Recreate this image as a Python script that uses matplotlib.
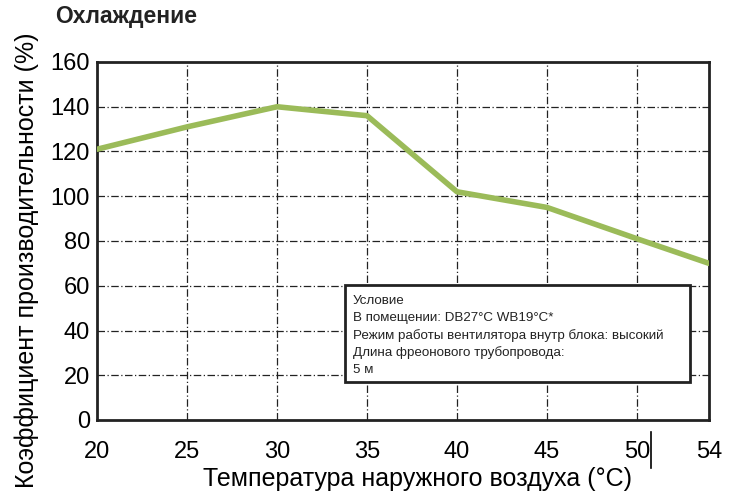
import matplotlib
matplotlib.use("Agg")
import matplotlib.pyplot as plt
from matplotlib.patches import Rectangle
from matplotlib.lines import Line2D

plt.rcParams['font.family'] = ['Liberation Sans', 'DejaVu Sans']

temps = [20, 25, 30, 35, 40, 45, 50, 54]
capacity = [121, 131, 140, 136, 102, 95, 81, 70]
x_ticks = [20, 25, 30, 35, 40, 45, 50, 54]
y_ticks = [0, 20, 40, 60, 80, 100, 120, 140, 160]

title = "Охлаждение"
xlabel = "Температура наружного воздуха (°C)"
ylabel = "Коэффициент производительности (%)"
note_lines = ["Условие",
              "В помещении: DB27°C WB19°C*",
              "Режим работы вентилятора внутр блока: высокий",
              "Длина фреонового трубопровода:",
              "5 м"]

fig = plt.figure(figsize=(7.29, 5.0), dpi=100)
ax = fig.add_axes([97/729, 1-420/500, (709-97)/729, (420-62)/500])

ax.set_xlim(20, 54)
ax.set_ylim(0, 160)
ax.set_xticks(x_ticks)
ax.set_yticks(y_ticks)
ax.tick_params(length=0, labelsize=17)
ax.tick_params(axis='x', pad=15)
ax.tick_params(axis='y', pad=5)
for s in ax.spines.values():
    s.set_linewidth(2)
    s.set_color('#222222')

for xv in [25, 30, 35, 40, 45, 50]:
    ax.axvline(xv, color='#222222', lw=0.9, ls=(0, (6, 2, 1, 2)), zorder=1)
for yv in [20, 40, 60, 80, 100, 120, 140]:
    ax.axhline(yv, color='#222222', lw=0.9, ls=(0, (6, 2, 1, 2)), zorder=1)

ax.plot(temps, capacity, color='#9BBB59', lw=4, solid_capstyle='round',
        solid_joinstyle='round', zorder=3)

# Condition note box
box = Rectangle((33.8, 17.0), 52.95-33.8, 60.5-17.0, facecolor='white',
                edgecolor='#222222', lw=2, zorder=4)
ax.add_patch(box)
ax.text(34.2, 55.8, "\n".join(note_lines), fontsize=9.6, va='top', ha='left',
        linespacing=1.5, color='#222222', zorder=5)

ax.set_xlabel(xlabel, fontsize=18)
ax.set_ylabel(ylabel, fontsize=18)
ax.xaxis.set_label_coords(0.523, -0.132)
ax.yaxis.set_label_coords(-0.095, 0.447)
fig.text(55/729, 1-16/500, title, fontsize=16.5, fontweight='bold',
         va='center', ha='left', color='#222222')

# stray cursor mark next to "50"
fig.add_artist(Line2D([651/729, 651/729], [1-468/500, 1-432/500],
                      color='black', lw=1.2))

fig.savefig("out.png", dpi=100)
